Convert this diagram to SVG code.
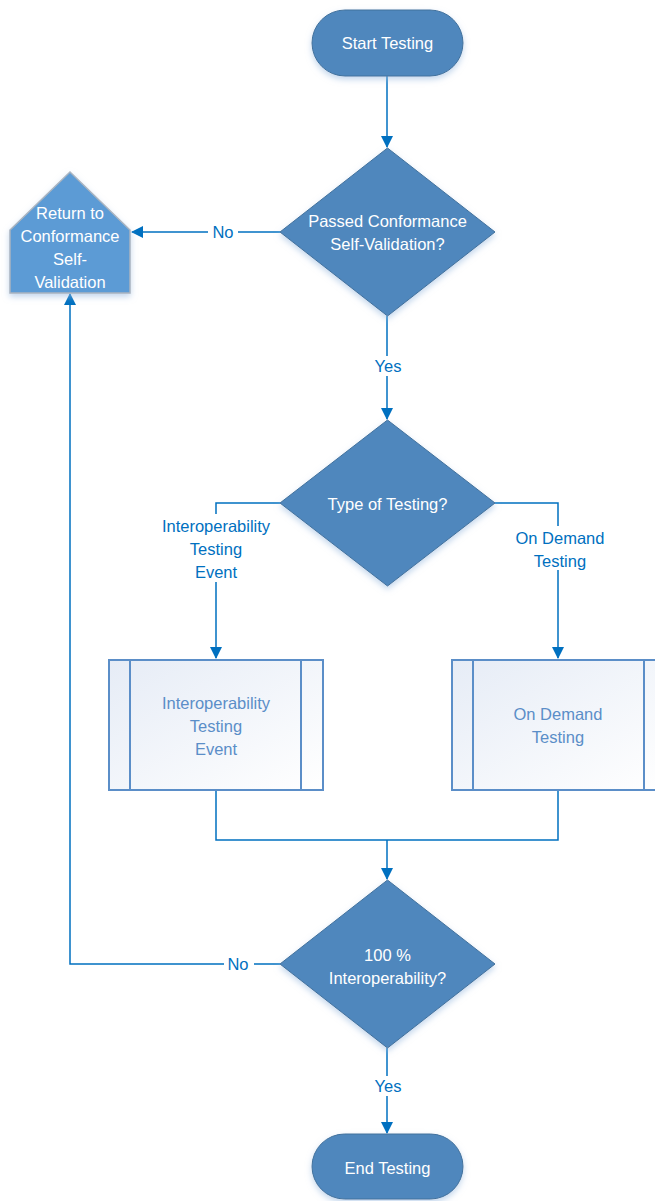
<svg xmlns="http://www.w3.org/2000/svg" width="655" height="1201" viewBox="0 0 655 1201">
<defs>
<style>
.n{fill:#4f87bd;stroke:#41719c;stroke-width:1}
.t{font-family:"Liberation Sans",Arial,sans-serif;font-size:16.5px;fill:#ffffff;text-anchor:middle}
.bt{font-family:"Liberation Sans",Arial,sans-serif;font-size:16.5px;fill:#5b8ec8;text-anchor:middle}
.lb{font-family:"Liberation Sans",Arial,sans-serif;font-size:16.5px;fill:#0070c0;text-anchor:middle}
.c{fill:none;stroke:#0070c0;stroke-width:1.5}
.box{fill:url(#g);stroke:#5b8ec8;stroke-width:2}
.in{stroke:#5b8ec8;stroke-width:2}
</style>
<linearGradient id="g" x1="0" y1="0" x2="1" y2="1">
<stop offset="0" stop-color="#e6ecf6"/>
<stop offset="1" stop-color="#ffffff"/>
</linearGradient>
<filter id="sh" x="-20%" y="-20%" width="140%" height="150%">
<feDropShadow dx="0" dy="3" stdDeviation="3" flood-color="#9bbbe0" flood-opacity="0.6"/>
</filter>
<marker id="ar" markerWidth="12" markerHeight="12" refX="11" refY="6" orient="auto" markerUnits="userSpaceOnUse" viewBox="0 0 12 12">
<path d="M0,0 L12,6 L0,12 z" fill="#0070c0"/>
</marker>
</defs>
<g id="connectors">
<path class="c" d="M387,76 V147" marker-end="url(#ar)"/>
<path class="c" d="M280,232 H132" marker-end="url(#ar)"/>
<path class="c" d="M387,316 V419" marker-end="url(#ar)"/>
<path class="c" d="M280,503 H216 V658" marker-end="url(#ar)"/>
<path class="c" d="M495,503 H558 V658" marker-end="url(#ar)"/>
<path class="c" d="M216,790 V840 H558 V790"/>
<path class="c" d="M387,840 V879" marker-end="url(#ar)"/>
<path class="c" d="M280,964 H70 V294" marker-end="url(#ar)"/>
<path class="c" d="M387,1048 V1133" marker-end="url(#ar)"/>
<rect x="208" y="222" width="30" height="20" fill="#ffffff"/>
<text class="lb" x="223" y="238">No</text>
<rect x="372" y="356" width="32" height="20" fill="#ffffff"/>
<text class="lb" x="388" y="372">Yes</text>
<rect x="224" y="954" width="30" height="20" fill="#ffffff"/>
<text class="lb" x="238" y="970">No</text>
<rect x="372" y="1076" width="32" height="20" fill="#ffffff"/>
<text class="lb" x="388" y="1092">Yes</text>
<rect x="150" y="514" width="132" height="68" fill="#ffffff"/>
<text class="lb" x="216" y="532">Interoperability</text>
<text class="lb" x="216" y="555">Testing</text>
<text class="lb" x="216" y="578">Event</text>
<rect x="510" y="526" width="100" height="44" fill="#ffffff"/>
<text class="lb" x="560" y="544">On Demand</text>
<text class="lb" x="560" y="567">Testing</text>
</g>
<g id="start">
<rect class="n" x="312" y="10" width="151" height="66" rx="33" filter="url(#sh)"/>
<text class="t" x="387.5" y="49">Start Testing</text>
</g>
<g id="d1">
<polygon class="n" points="387.5,148 495,232 387.5,316 280,232" filter="url(#sh)"/>
<text class="t" x="387.5" y="227">Passed Conformance</text>
<text class="t" x="387.5" y="250">Self-Validation?</text>
</g>
<g id="ret">
<polygon points="70,172 130,230 130,293 10,293 10,230" fill="#5b9bd5" stroke="#aab4c0" stroke-width="1.5" filter="url(#sh)"/>
<text class="t" x="70" y="219">Return to</text>
<text class="t" x="70" y="242">Conformance</text>
<text class="t" x="70" y="265">Self-</text>
<text class="t" x="70" y="288">Validation</text>
</g>
<g id="d2">
<polygon class="n" points="387.5,420 495,503 387.5,586 280,503" filter="url(#sh)"/>
<text class="t" x="387.5" y="510">Type of Testing?</text>
</g>
<g id="p1">
<rect class="box" x="109" y="660" width="214" height="130"/>
<line class="in" x1="130" y1="660" x2="130" y2="790"/>
<line class="in" x1="301" y1="660" x2="301" y2="790"/>
<text class="bt" x="216" y="709">Interoperability</text>
<text class="bt" x="216" y="732">Testing</text>
<text class="bt" x="216" y="755">Event</text>
</g>
<g id="p2">
<rect class="box" x="452" y="660" width="214" height="130"/>
<line class="in" x1="473" y1="660" x2="473" y2="790"/>
<line class="in" x1="644" y1="660" x2="644" y2="790"/>
<text class="bt" x="558" y="720">On Demand</text>
<text class="bt" x="558" y="743">Testing</text>
</g>
<g id="d3">
<polygon class="n" points="387.5,880 495,964 387.5,1048 280,964" filter="url(#sh)"/>
<text class="t" x="387.5" y="961">100 %</text>
<text class="t" x="387.5" y="984">Interoperability?</text>
</g>
<g id="end">
<rect class="n" x="312" y="1134" width="151" height="65" rx="32.5" filter="url(#sh)"/>
<text class="t" x="387.5" y="1174">End Testing</text>
</g>
</svg>
